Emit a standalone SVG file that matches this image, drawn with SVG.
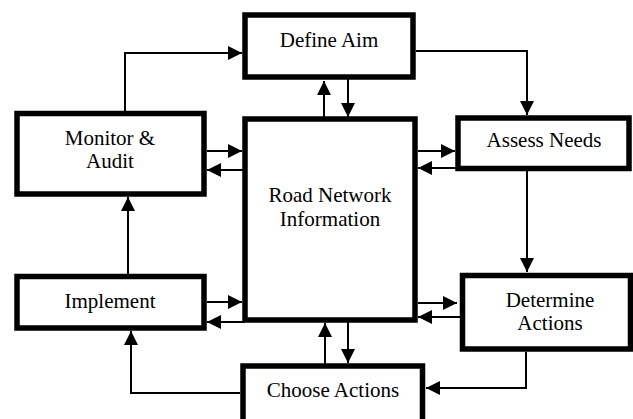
<svg xmlns="http://www.w3.org/2000/svg" width="633" height="419" viewBox="0 0 633 419">
<style>
.box{fill:#fff;stroke:#000;stroke-width:5.5}
.c{fill:none;stroke:#000;stroke-width:2;marker-end:url(#ah)}
</style>
<defs>
<marker id="ah" viewBox="0 0 14 14" refX="14" refY="7" markerWidth="14" markerHeight="14" markerUnits="userSpaceOnUse" orient="auto">
<path d="M0,0 L14,7 L0,14 Z" fill="#000"/>
</marker>
</defs>
<rect width="633" height="419" fill="#fff"/>
<g id="connectors">
<polyline class="c" points="125,113 125,53 242,53"/>
<polyline class="c" points="416,51 527,51 527,115"/>
<line class="c" x1="324" y1="119" x2="324" y2="81"/>
<line class="c" x1="348" y1="78" x2="348" y2="117"/>
<line class="c" x1="207" y1="151" x2="242" y2="151"/>
<line class="c" x1="245" y1="170" x2="207" y2="170"/>
<line class="c" x1="418" y1="151" x2="455" y2="151"/>
<line class="c" x1="458" y1="168" x2="418" y2="168"/>
<line class="c" x1="527" y1="171" x2="527" y2="272"/>
<line class="c" x1="418" y1="303" x2="457" y2="303"/>
<line class="c" x1="460" y1="317" x2="418" y2="317"/>
<polyline class="c" points="526,352 526,388 426,388"/>
<line class="c" x1="325" y1="366" x2="325" y2="323"/>
<line class="c" x1="348" y1="322" x2="348" y2="363"/>
<line class="c" x1="207" y1="302" x2="242" y2="302"/>
<line class="c" x1="245" y1="322" x2="207" y2="322"/>
<polyline class="c" points="240,393 131,393 131,331"/>
<line class="c" x1="128" y1="274" x2="128" y2="197"/>
</g>
<g font-family="'Times New Roman', 'Liberation Serif', Tinos, serif" font-size="21" text-anchor="middle" fill="#000">
<g id="define-aim">
<rect class="box" x="245" y="15" width="168" height="62"/>
<text x="329" y="47">Define Aim</text>
</g>
<g id="road-network">
<rect class="box" x="245" y="119" width="170" height="201"/>
<text x="330" y="202">Road Network</text>
<text x="330" y="226">Information</text>
</g>
<g id="monitor-audit">
<rect class="box" x="17" y="113.5" width="187" height="80.5"/>
<text x="110" y="145">Monitor &amp;</text>
<text x="110" y="168">Audit</text>
</g>
<g id="assess-needs">
<rect class="box" x="458" y="118" width="171" height="50.5"/>
<text x="544" y="147">Assess Needs</text>
</g>
<g id="determine-actions">
<rect class="box" x="462.5" y="275.5" width="168" height="73.5"/>
<text x="550" y="307">Determine</text>
<text x="550" y="330">Actions</text>
</g>
<g id="implement">
<rect class="box" x="17" y="276.5" width="187" height="51.5"/>
<text x="110" y="308">Implement</text>
</g>
<g id="choose-actions">
<rect class="box" x="243" y="366" width="179.5" height="70"/>
<text x="333" y="397">Choose Actions</text>
</g>
</g>
</svg>
